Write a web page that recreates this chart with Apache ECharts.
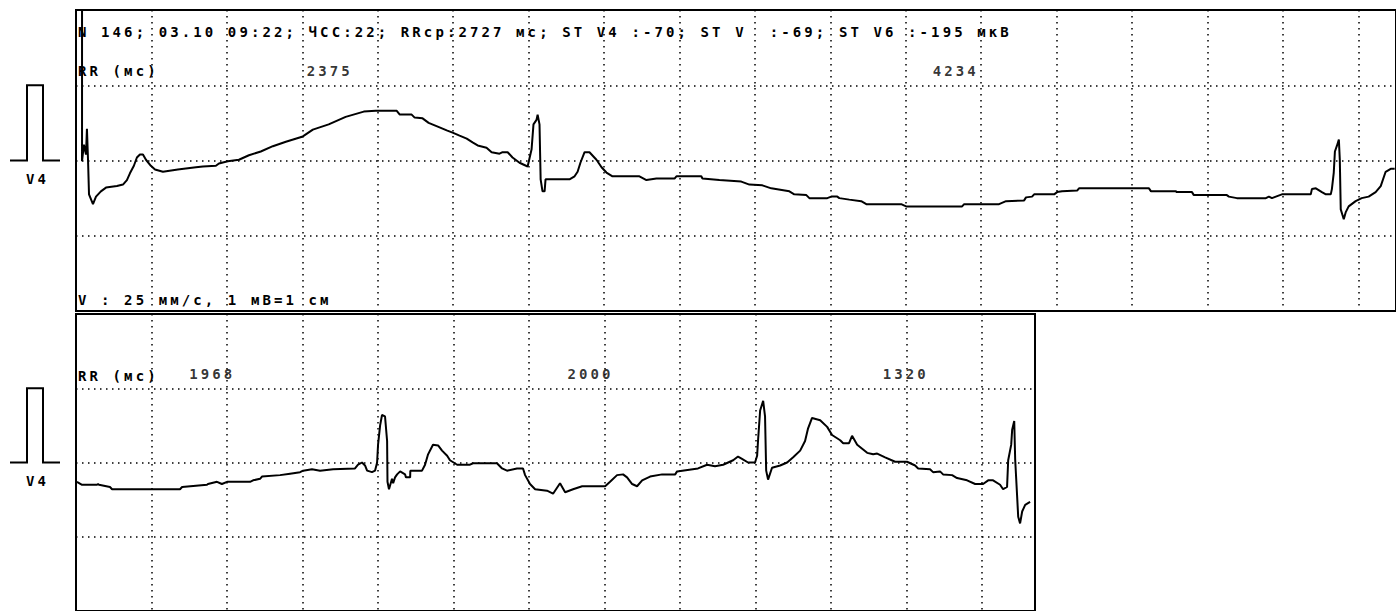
<!DOCTYPE html>
<html>
<head>
<meta charset="utf-8">
<script src="https://cdn.jsdelivr.net/npm/echarts@6/dist/echarts.min.js"></script>
<style>
  html, body { margin: 0; padding: 0; background: #fff; }
  #chart { width: 1396px; height: 611px; }
  /* the recorder font is wide and evenly spaced */
  #chart svg text { letter-spacing: 3.1px; }
</style>
</head>
<body>
<div id="chart"></div>
<script>
// lead V4, strip 1: [time ms, mV]
const lead1 = [
  [32, 2.3], [32, -0.01], [42, 0.21], [53, 0.08], [58, 0.42], [64, -0.01], [69, -0.45], [90, -0.58],
  [106, -0.48], [132, -0.41], [159, -0.36], [217, -0.34], [249, -0.32], [270, -0.26], [286, -0.17],
  [307, -0.07], [323, 0.04], [339, 0.08], [355, 0.08], [371, 0.01], [397, -0.07], [419, -0.12],
  [461, -0.15], [540, -0.12], [636, -0.09], [673, -0.08], [742, -0.07], [758, -0.04], [805, -0.01],
  [864, 0.01], [917, 0.07], [980, 0.12], [1044, 0.19], [1113, 0.25], [1203, 0.32], [1256, 0.41],
  [1340, 0.48], [1430, 0.58], [1526, 0.65], [1589, 0.66], [1701, 0.66], [1717, 0.61], [1780, 0.61],
  [1796, 0.57], [1838, 0.56], [1870, 0.50], [1928, 0.44], [1966, 0.40], [1997, 0.37], [2034, 0.33],
  [2072, 0.29], [2103, 0.24], [2130, 0.20], [2177, 0.17], [2204, 0.11], [2246, 0.09], [2262, 0.11],
  [2289, 0.11], [2315, 0.04], [2352, -0.03], [2395, -0.08], [2405, 0.03], [2416, 0.15], [2426, 0.48],
  [2442, 0.54], [2448, 0.61], [2458, 0.48], [2464, -0.25], [2474, -0.41], [2485, -0.41], [2490, -0.25],
  [2617, -0.25], [2644, -0.21], [2660, -0.15], [2675, -0.03], [2697, 0.11], [2723, 0.11], [2760, 0.01],
  [2787, -0.09], [2813, -0.16], [2845, -0.21], [2988, -0.21], [3025, -0.26], [3078, -0.24], [3174, -0.24],
  [3184, -0.21], [3316, -0.21], [3322, -0.24], [3412, -0.26], [3528, -0.28], [3571, -0.32], [3640, -0.33],
  [3687, -0.37], [3783, -0.41], [3809, -0.45], [3873, -0.46], [3889, -0.50], [3984, -0.50], [4005, -0.48],
  [4037, -0.48], [4048, -0.50], [4101, -0.52], [4164, -0.54], [4191, -0.58], [4376, -0.58], [4402, -0.61],
  [4699, -0.61], [4710, -0.58], [4895, -0.58], [4932, -0.54], [5028, -0.53], [5038, -0.49], [5070, -0.48],
  [5081, -0.45], [5187, -0.45], [5203, -0.42], [5229, -0.41], [5309, -0.40], [5319, -0.37], [5690, -0.37],
  [5701, -0.41], [5833, -0.41], [5838, -0.42], [5918, -0.42], [5928, -0.46], [6103, -0.46], [6114, -0.48],
  [6156, -0.50], [6310, -0.50], [6326, -0.48], [6342, -0.50], [6363, -0.48], [6395, -0.45], [6548, -0.45],
  [6554, -0.38], [6575, -0.37], [6607, -0.42], [6628, -0.45], [6654, -0.45], [6660, -0.38], [6670, -0.16],
  [6676, 0.12], [6686, 0.19], [6697, 0.28], [6702, 0.01], [6707, -0.65], [6723, -0.78], [6733, -0.69],
  [6749, -0.61], [6786, -0.54], [6818, -0.50], [6855, -0.48], [6892, -0.42], [6919, -0.34], [6945, -0.15],
  [6972, -0.11], [6993, -0.11]
];

// lead V4, strip 2
const lead2 = [
  [5, -0.26], [32, -0.30], [111, -0.30], [117, -0.29], [122, -0.30], [180, -0.33], [191, -0.36], [551, -0.36],
  [562, -0.33], [694, -0.30], [699, -0.29], [747, -0.26], [773, -0.29], [800, -0.26], [922, -0.26], [938, -0.24],
  [975, -0.22], [985, -0.19], [1081, -0.17], [1134, -0.15], [1187, -0.13], [1203, -0.11], [1250, -0.09],
  [1293, -0.11], [1362, -0.09], [1478, -0.08], [1494, -0.03], [1515, 0], [1531, -0.04], [1542, -0.11],
  [1568, -0.13], [1584, -0.11], [1595, 0], [1600, 0.24], [1611, 0.50], [1621, 0.64], [1637, 0.62], [1648, 0.29],
  [1650, -0.26], [1658, -0.36], [1674, -0.22], [1680, -0.28], [1690, -0.20], [1701, -0.16], [1717, -0.12],
  [1743, -0.16], [1748, -0.20], [1770, -0.20], [1771, -0.11], [1833, -0.11], [1849, -0.03], [1865, 0.11],
  [1891, 0.24], [1918, 0.23], [1939, 0.16], [1966, 0.09], [1981, 0.03], [2019, -0.03], [2087, -0.03],
  [2103, -0.01], [2230, -0.01], [2257, -0.08], [2283, -0.11], [2336, -0.08], [2368, -0.08], [2379, -0.17],
  [2405, -0.29], [2432, -0.36], [2495, -0.38], [2527, -0.42], [2564, -0.28], [2591, -0.40], [2633, -0.36],
  [2681, -0.32], [2803, -0.32], [2829, -0.26], [2866, -0.17], [2898, -0.16], [2919, -0.20], [2946, -0.29],
  [2972, -0.32], [2999, -0.24], [3041, -0.19], [3105, -0.16], [3174, -0.16], [3184, -0.12], [3295, -0.08],
  [3343, -0.03], [3385, -0.05], [3428, -0.03], [3481, 0.03], [3507, 0.08], [3528, 0.05], [3560, 0], [3597, 0],
  [3608, 0.09], [3613, 0.30], [3624, 0.70], [3640, 0.83], [3650, 0.62], [3656, -0.11], [3666, -0.23],
  [3687, -0.07], [3730, -0.04], [3767, 0], [3799, 0.07], [3836, 0.16], [3862, 0.29], [3878, 0.46], [3899, 0.60],
  [3942, 0.57], [3979, 0.48], [4005, 0.37], [4048, 0.30], [4064, 0.26], [4095, 0.26], [4111, 0.36], [4138, 0.24],
  [4191, 0.13], [4223, 0.11], [4244, 0.12], [4286, 0.07], [4339, 0.01], [4402, 0.01], [4445, -0.04],
  [4461, -0.08], [4524, -0.09], [4540, -0.13], [4577, -0.12], [4593, -0.16], [4641, -0.17], [4667, -0.21],
  [4720, -0.24], [4763, -0.29], [4805, -0.29], [4832, -0.24], [4858, -0.24], [4895, -0.30], [4911, -0.36],
  [4932, -0.33], [4938, 0.03], [4954, 0.24], [4959, 0.44], [4970, 0.56], [4975, 0.04], [4985, -0.44],
  [4991, -0.73], [5001, -0.82], [5012, -0.66], [5028, -0.57], [5054, -0.53]
];

// R peaks (ms) and the RR intervals printed above them
const qrs1 = [42, 2448, 6697];
const rr1 = [2375, 4234];
const qrs2 = [1621, 3640, 4970];
const rr2 = [1968, 2000, 1320];

const headerText = 'N 146; 03.10 09:22; ЧСС:22; RRср:2727 мс; ST V4 :-70; ST V\u00a0 :-69; ST V6 :-195 мкВ';
const rrTitle = 'RR (мс)';
const scaleText = 'V : 25 мм/с, 1 мВ=1 см';
const leadName = 'V4';
const calibrationMv = 1;

const FONT = 'bold 14px "DejaVu Sans Mono"';
const rrRowMv = 1.19;

const chart = echarts.init(document.getElementById('chart'), null, { renderer: 'svg' });

const dots = { color: '#000', width: 1.5, type: [1.5, 4.5] };

function xAx(idx, max) {
  return {
    type: 'value', gridIndex: idx, min: 0, max: max, interval: 400,
    axisLine: { show: false }, axisTick: { show: false }, axisLabel: { show: false },
    splitLine: { show: true, lineStyle: dots }
  };
}
function yAx(idx) {
  return {
    type: 'value', gridIndex: idx, min: -2, max: 2, interval: 1,
    axisLine: { show: false }, axisTick: { show: false }, axisLabel: { show: false },
    splitLine: { show: true, lineStyle: dots }
  };
}

// label sits halfway back along its RR interval
const rrPts1 = rr1.map((rr, i) => [qrs1[i + 1] - rr / 2, rrRowMv, rr]);
const rrPts2 = rr2.map((rr, i) => [qrs2[i] - rr / 2, rrRowMv, rr]);

function rrSeries(idx, pts) {
  return {
    type: 'scatter', xAxisIndex: idx, yAxisIndex: idx, data: pts,
    symbolSize: 0, silent: true,
    label: {
      show: true, position: 'right', distance: 0, offset: [-7, 0],
      formatter: p => String(p.value[2]),
      color: '#000', fontFamily: 'DejaVu Sans Mono', fontWeight: 'bold', fontSize: 14
    }
  };
}

function traceSeries(idx, data) {
  return {
    type: 'line', xAxisIndex: idx, yAxisIndex: idx, data: data,
    showSymbol: false, symbol: 'none', clip: true,
    lineStyle: { color: '#000', width: 2 }
  };
}

chart.setOption({
  animation: false,
  backgroundColor: '#fff',
  grid: [
    { left: 76, top: 10, width: 1321, height: 301, show: true, borderColor: '#000', borderWidth: 2 },
    { left: 76, top: 314, width: 959, height: 302, show: true, borderColor: '#000', borderWidth: 2 }
  ],
  xAxis: [xAx(0, 7000), xAx(1, 5080)],
  yAxis: [yAx(0), yAx(1)],
  series: [
    traceSeries(0, lead1),
    traceSeries(1, lead2),
    rrSeries(0, rrPts1),
    rrSeries(1, rrPts2)
  ]
});

// calibration pulse: 1 mV tall, on each strip's zero line
function pulse(gridIndex) {
  const base = chart.convertToPixel({ gridIndex }, [0, 0])[1];
  const top = chart.convertToPixel({ gridIndex }, [0, calibrationMv])[1];
  return [
    {
      type: 'polyline',
      shape: { points: [[10, base], [27, base], [27, top], [43, top], [43, base], [60, base]] },
      style: { stroke: '#000', lineWidth: 2, fill: null }
    },
    {
      type: 'text',
      style: { text: leadName, x: 26, y: base + 18, font: FONT, fill: '#000', verticalAlign: 'middle' }
    }
  ];
}

function label(text, x, y) {
  return { type: 'text', z: 10, style: { text, x, y, font: FONT, fill: '#000', verticalAlign: 'middle' } };
}

chart.setOption({
  graphic: [
    label(headerText, 78, 32),
    label(rrTitle, 78, 71),
    label(scaleText, 78, 300),
    label(rrTitle, 78, 376),
    ...pulse(0),
    ...pulse(1)
  ]
});
</script>
</body>
</html>
